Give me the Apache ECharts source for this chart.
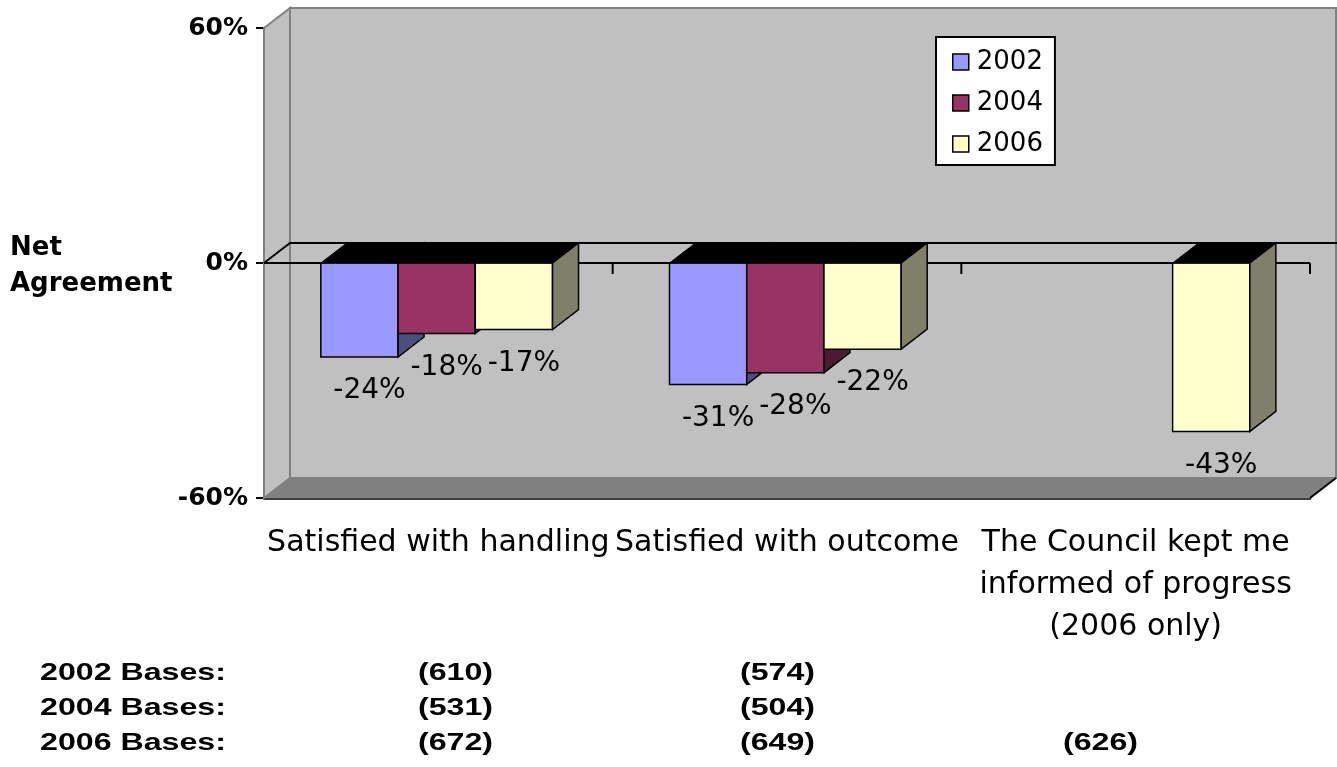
<!DOCTYPE html>
<html>
<head>
<meta charset="utf-8">
<title>Net Agreement</title>
<script src="https://cdn.jsdelivr.net/npm/echarts@6/dist/echarts.min.js"></script>
<style>
  html, body { margin: 0; padding: 0; background: #fff; }
  #main { width: 1337px; height: 767px; }
</style>
</head>
<body>
<div id="main"></div>
<script>
  // chart data
  var categories = ['Satisfied with handling', 'Satisfied with outcome', 'The Council kept me\ninformed of progress\n(2006 only)'];
  var years = ['2002', '2004', '2006'];
  var net2002 = [-24, -31, null];
  var net2004 = [-18, -28, null];
  var net2006 = [-17, -22, -43];
  var yTicks = [-60, 0, 60];
  var baseLabels = ['2002 Bases:', '2004 Bases:', '2006 Bases:'];
  var bases2002 = ['(610)', '(574)', ''];
  var bases2004 = ['(531)', '(504)', ''];
  var bases2006 = ['(672)', '(649)', '(626)'];

  var frontColors = ['#9999FF', '#993366', '#FFFFCC'];
  var sideColors = ['#4D4D80', '#4D1A33', '#80806A'];
  var DX = 26, DY = -20;   // 3d depth offset

  function toData(arr) {
    var out = [];
    for (var i = 0; i < arr.length; i++) {
      if (arr[i] !== null) out.push([i, arr[i]]);
    }
    return out;
  }

  // one 3d column
  function barRender(k) {
    return function (params, api) {
      var idx = api.value(0), v = api.value(1);
      var band = api.size([1, 0])[0];
      var c = api.coord([idx, 0]);
      var bottom = api.coord([idx, v])[1];
      var w = band * 0.2215;
      var x0 = c[0] - band / 2 + band * 0.163 + k * w;
      var x1 = x0 + w, y0 = c[1];
      return {
        type: 'group',
        children: [
          { type: 'rect', shape: { x: x0, y: y0, width: w, height: bottom - y0 },
            style: { fill: frontColors[k], stroke: '#000', lineWidth: 1.5 } },
          { type: 'polygon', shape: { points: [[x0, y0], [x0 + DX, y0 + DY], [x1 + DX, y0 + DY], [x1, y0]] },
            style: { fill: '#000', stroke: '#000', lineWidth: 1 } },
          { type: 'polygon', shape: { points: [[x1, y0], [x1 + DX, y0 + DY], [x1 + DX, bottom + DY], [x1, bottom]] },
            style: { fill: sideColors[k], stroke: '#000', lineWidth: 1.5 } },
          { type: 'text', style: { text: v + '%', x: (x0 + x1) / 2 + 10, y: bottom + 34,
              align: 'center', verticalAlign: 'middle', fill: '#000',
              font: '28px "DejaVu Sans"' } }
        ]
      };
    };
  }

  // walls, floor and zero plane
  function wallRender(params, api) {
    var cs = params.coordSys;
    var L = cs.x, T = cs.y, R = cs.x + cs.width, B = cs.y + cs.height;
    var zy = api.coord([0, 0])[1];
    var kids = [
      { type: 'rect', shape: { x: L + DX, y: T + DY, width: cs.width, height: cs.height },
        style: { fill: '#C0C0C0', stroke: '#808080', lineWidth: 2 } },
      { type: 'polygon', shape: { points: [[L, T], [L + DX, T + DY], [L + DX, B + DY], [L, B]] },
        style: { fill: '#C0C0C0', stroke: '#808080', lineWidth: 2 } },
      { type: 'polygon', shape: { points: [[L, B], [L + DX, B + DY], [R + DX, B + DY], [R, B]] },
        style: { fill: '#808080', stroke: '#808080', lineWidth: 1 } },
      { type: 'line', shape: { x1: R, y1: B, x2: R + DX, y2: B + DY },
        style: { stroke: '#000', lineWidth: 2 } },
      { type: 'polyline', shape: { points: [[L, zy], [L + DX, zy + DY], [R + DX + 4, zy + DY]] },
        style: { stroke: '#000', lineWidth: 2, fill: null } },
      { type: 'line', shape: { x1: L, y1: zy, x2: R, y2: zy },
        style: { stroke: '#000', lineWidth: 2 } }
    ];
    for (var i = 1; i <= categories.length; i++) {
      var x = L + i * cs.width / categories.length;
      kids.push({ type: 'line', shape: { x1: x, y1: zy, x2: x, y2: zy + 11 },
        style: { stroke: '#000', lineWidth: 2 } });
    }
    return { type: 'group', children: kids };
  }

  var series = [{
    type: 'custom',
    silent: true,
    renderItem: wallRender,
    data: [[0, 0]],
    z: 1
  }];
  var yearData = [net2002, net2004, net2006];
  for (var k = 0; k < years.length; k++) {
    series.push({
      name: years[k],
      type: 'custom',
      renderItem: barRender(k),
      itemStyle: { color: frontColors[k], borderColor: '#000', borderWidth: 1.5 },
      encode: { x: 0, y: 1 },
      data: toData(yearData[k]),
      z: 2 + k
    });
  }

  // bases table under the chart
  var graphics = [];
  var colX = [418, 740, 1063];
  var rowY = [673, 708, 743];
  var baseRows = [bases2002, bases2004, bases2006];
  var baseFont = 'bold 24px "Liberation Sans"';
  for (var r = 0; r < baseLabels.length; r++) {
    graphics.push({ type: 'text', x: 40, y: rowY[r], scaleX: 1.34,
      style: { text: baseLabels[r], font: baseFont, fill: '#000', verticalAlign: 'middle' } });
    for (var c = 0; c < colX.length; c++) {
      if (!baseRows[r][c]) continue;
      graphics.push({ type: 'text', x: colX[c], y: rowY[r], scaleX: 1.34,
        style: { text: baseRows[r][c], font: baseFont, fill: '#000', verticalAlign: 'middle' } });
    }
  }

  var chart = echarts.init(document.getElementById('main'));
  var option = {
    backgroundColor: '#fff',
    animation: false,
    title: {
      text: 'Net\nAgreement',
      left: 10, top: 230, padding: 0,
      textStyle: { fontFamily: 'DejaVu Sans', fontWeight: 'bold', fontSize: 26, lineHeight: 36, color: '#000' }
    },
    legend: {
      data: years,
      orient: 'vertical',
      left: 936, top: 37,
      padding: [12, 12, 8, 16],
      itemWidth: 16, itemHeight: 16, itemGap: 15,
      icon: 'rect',
      backgroundColor: '#fff',
      borderColor: '#000', borderWidth: 2,
      itemStyle: { borderColor: '#000', borderWidth: 1.5 },
      textStyle: { fontFamily: 'DejaVu Sans', fontSize: 26, color: '#000', padding: [0, 0, 0, 3] }
    },
    grid: { left: 264, top: 28, width: 1046, height: 470, containLabel: false },
    xAxis: {
      type: 'category',
      data: categories,
      axisLine: { onZero: false, lineStyle: { color: '#000', width: 2.5 } },
      axisTick: { length: 12, lineStyle: { color: '#000', width: 2 } },
      axisLabel: { interval: 0, margin: 24, color: '#000', fontFamily: 'DejaVu Sans', fontSize: 30, lineHeight: 42 },
      splitLine: { show: false }
    },
    yAxis: {
      type: 'value',
      min: yTicks[0], max: yTicks[yTicks.length - 1], interval: 60,
      axisLine: { show: true, lineStyle: { color: '#000', width: 2 } },
      axisTick: { show: true, length: 8, lineStyle: { color: '#000', width: 2 } },
      axisLabel: { formatter: '{value}%', margin: 16, color: '#000', fontFamily: 'DejaVu Sans', fontWeight: 'bold', fontSize: 25 },
      splitLine: { show: false }
    },
    graphic: graphics,
    series: series
  };
  chart.setOption(option);
</script>
</body>
</html>
